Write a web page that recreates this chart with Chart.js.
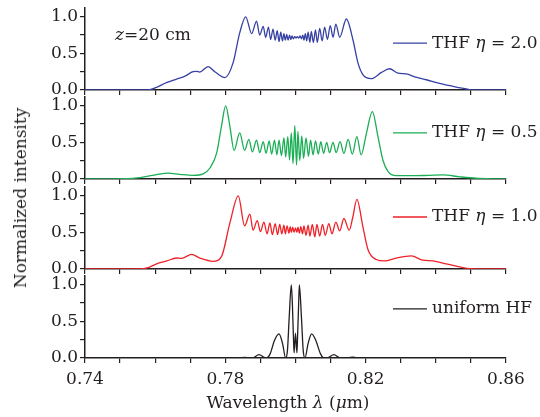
<!DOCTYPE html>
<html>
<head>
<meta charset="utf-8">
<script src="https://cdn.jsdelivr.net/npm/chart.js@4/dist/chart.umd.min.js"></script>
<style>
    body { margin: 0; background: #fff; }
    #wrap { position: relative; width: 540px; height: 417px; overflow: hidden; }
    canvas { position: absolute; left: 0; }
    .axTitle { position: absolute; font-family: "DejaVu Serif", serif; font-size: 17px; color: #231f20; white-space: nowrap; }
</style>
</head>
<body>
<div id="wrap">
    <canvas id="p1" width="540" height="100" style="top:0px"></canvas>
    <canvas id="p2" width="540" height="100" style="top:89px"></canvas>
    <canvas id="p3" width="540" height="100" style="top:179px"></canvas>
    <canvas id="p4" width="540" height="130" style="top:268px"></canvas>
    <div class="axTitle" id="yTitle" style="left:20px;top:198px;transform:translate(-50%,-50%) rotate(-90deg);">Normalized intensity</div>
    <div class="axTitle" id="xTitle" style="left:288px;top:402px;transform:translate(-50%,-50%);">Wavelength <i>λ</i> (<i>μ</i>m)</div>
</div>
<script>
// THF eta = 2.0
const etaTwoWl = [0.740, 0.758, 0.7604, 0.7632, 0.7661, 0.7685, 0.7708, 0.7718, 0.7727, 0.7751, 0.7770, 0.7799, 0.7822, 0.7841, 0.7858,
    0.7875, 0.7889, 0.7898, 0.7908, 0.7915, 0.7923, 0.7929, 0.7936, 0.7942, 0.7948, 0.7953, 0.7958, 0.7963, 0.7967, 0.7971, 0.7975,
    0.7979, 0.7983, 0.7987, 0.7990, 0.7994, 0.7998, 0.8002, 0.8005, 0.8009, 0.8013, 0.8017, 0.8021, 0.8024, 0.8028, 0.8032, 0.8036,
    0.8041, 0.8045, 0.8051, 0.8057, 0.8062, 0.8069, 0.8076, 0.8083, 0.8091, 0.8099, 0.8107, 0.8115, 0.8126, 0.8145,
    0.8164, 0.8178, 0.8192, 0.8216, 0.8245, 0.8268, 0.8292, 0.8316, 0.8340, 0.8373, 0.8411, 0.8458, 0.8496, 0.8500, 0.860];
const etaTwoVal = [0, 0, 0.037, 0.10, 0.15, 0.19, 0.25, 0.255, 0.245, 0.32, 0.25, 0.17, 0.37, 0.78, 1.0,
    0.77, 0.94, 0.75, 0.87, 0.72, 0.86, 0.69, 0.83, 0.68, 0.81, 0.66, 0.79, 0.67, 0.77, 0.68, 0.76,
    0.68, 0.75, 0.69, 0.74, 0.70, 0.73, 0.71, 0.73, 0.71, 0.74, 0.70, 0.75, 0.68, 0.77, 0.67, 0.79,
    0.65, 0.80, 0.65, 0.82, 0.65, 0.84, 0.67, 0.86, 0.69, 0.88, 0.72, 0.90, 0.72, 0.97,
    0.68, 0.37, 0.21, 0.155, 0.24, 0.29, 0.23, 0.22, 0.18, 0.14, 0.09, 0.04, 0.005, 0, 0];

// THF eta = 0.5
const etaHalfWl = [0.740, 0.7519, 0.7550, 0.7576, 0.7604, 0.7637, 0.7670, 0.7708, 0.7737, 0.7756, 0.7775, 0.7789, 0.7801, 0.7813,
    0.7825, 0.7841, 0.7855, 0.7867, 0.7877, 0.7889, 0.7898, 0.7908, 0.7916, 0.7925, 0.7932, 0.7940, 0.7947, 0.7953, 0.7960,
    0.7967, 0.7972, 0.7978, 0.7983, 0.7988, 0.7993, 0.7998, 0.8003, 0.8007, 0.8012, 0.8018, 0.8023, 0.8030, 0.8037, 0.8043,
    0.8050, 0.8057, 0.8065, 0.8072, 0.8080, 0.8089, 0.8097, 0.8107, 0.8116, 0.8127, 0.8138, 0.8150, 0.8162, 0.8175, 0.8187,
    0.8202, 0.8219, 0.8235, 0.8249, 0.8264, 0.8287, 0.8335, 0.8380, 0.8420, 0.8468, 0.8515, 0.856, 0.860];
const etaHalfVal = [0, 0.005, 0.015, 0.036, 0.06, 0.08, 0.064, 0.05, 0.07, 0.15, 0.35, 0.72, 1.0, 0.72,
    0.39, 0.63, 0.39, 0.54, 0.37, 0.53, 0.36, 0.51, 0.35, 0.52, 0.34, 0.53, 0.33, 0.53, 0.32,
    0.56, 0.30, 0.58, 0.26, 0.63, 0.21, 0.73, 0.19, 0.65, 0.25, 0.59, 0.28, 0.56, 0.31, 0.53,
    0.33, 0.52, 0.34, 0.51, 0.35, 0.50, 0.36, 0.50, 0.36, 0.51, 0.35, 0.54, 0.34, 0.58, 0.33,
    0.62, 0.92, 0.58, 0.26, 0.10, 0.045, 0.045, 0.05, 0.055, 0.03, 0.01, 0.002, 0];

// THF eta = 1.0
const etaOneWl = [0.740, 0.7557, 0.7580, 0.7604, 0.7633, 0.7661, 0.7675, 0.7704, 0.7727, 0.7765, 0.7789, 0.7813, 0.7837,
    0.7855, 0.7870, 0.7879, 0.7891, 0.7900, 0.7910, 0.7919, 0.7927, 0.7934, 0.7942, 0.7949, 0.7955, 0.7961, 0.7967, 0.7971,
    0.7976, 0.7981, 0.7985, 0.7988, 0.7992, 0.7996, 0.8000, 0.8004, 0.8007, 0.8011, 0.8015, 0.8020, 0.8024, 0.8030, 0.8036,
    0.8041, 0.8048, 0.8055, 0.8061, 0.8069, 0.8077, 0.8085, 0.8095, 0.8104, 0.8115, 0.8126, 0.8138, 0.8153, 0.8163, 0.8175,
    0.8192, 0.8207, 0.8230, 0.8254, 0.8287, 0.8330, 0.8363, 0.8392, 0.8430, 0.8477, 0.8515, 0.860];
const etaOneVal = [0, 0, 0.02, 0.07, 0.11, 0.15, 0.145, 0.20, 0.15, 0.105, 0.17, 0.63, 1.0,
    0.59, 0.75, 0.53, 0.66, 0.51, 0.64, 0.48, 0.63, 0.47, 0.62, 0.47, 0.61, 0.48, 0.60, 0.48,
    0.59, 0.49, 0.58, 0.50, 0.57, 0.50, 0.56, 0.50, 0.57, 0.49, 0.58, 0.48, 0.59, 0.46, 0.60,
    0.45, 0.61, 0.44, 0.61, 0.45, 0.61, 0.46, 0.62, 0.48, 0.64, 0.52, 0.69, 0.53, 0.70, 0.95,
    0.58, 0.26, 0.13, 0.11, 0.15, 0.18, 0.12, 0.11, 0.07, 0.02, 0, 0];

// uniform HF
const uniformWl = [0.740, 0.780, 0.7840, 0.7855, 0.7870, 0.7880, 0.7896, 0.7910, 0.7917, 0.7928, 0.7940, 0.7953, 0.7963, 0.7972,
    0.7977, 0.7982, 0.7988, 0.7991, 0.7994, 0.7996, 0.8000, 0.8004, 0.8006, 0.8009, 0.8011, 0.8017, 0.8022, 0.8027,
    0.8036, 0.8046, 0.8058, 0.8071, 0.8081, 0.8095, 0.8109, 0.8125, 0.8131, 0.8150, 0.8165, 0.8180, 0.860];
const uniformVal = [0, 0, 0.004, 0.008, 0, 0.005, 0.046, 0.01, 0, 0.06, 0.24, 0.33, 0.2, 0,
    0.1, 0.55, 1.0, 0.75, 0.3, 0.07, 0.34, 0.07, 0.3, 0.75, 1.0, 0.55, 0.1, 0,
    0.2, 0.33, 0.24, 0.06, 0, 0.01, 0.046, 0.005, 0, 0.004, 0.012, 0, 0];

const xTickLabels = ["0.74", "0.78", "0.82", "0.86"];
const yTickLabels = ["0.0", "0.5", "1.0"];

const ink = "#231f20";
const serif = "'DejaVu Serif', serif";

function toPoints(xs, ys) {
    return xs.map(function (x, i) { return { x: x, y: ys[i] }; });
}

function drawParts(ctx, parts, x, y) {
    parts.forEach(function (p) {
        ctx.font = (p[1] ? "italic " : "") + "17px " + serif;
        ctx.fillText(p[0], x, y);
        x += ctx.measureText(p[0]).width;
    });
}

// legend line + label, and the z note
const panelNotes = {
    id: "panelNotes",
    afterDraw(chart, args, opts) {
        const ctx = chart.ctx;
        const area = chart.chartArea;
        const yScale = chart.scales.y;
        ctx.save();
        ctx.fillStyle = ink;
        ctx.textBaseline = "middle";
        ctx.textAlign = "left";
        if (opts.legend) {
            const y = yScale.getPixelForValue(opts.legendAt);
            ctx.strokeStyle = opts.color;
            ctx.lineWidth = 1.3;
            ctx.beginPath();
            ctx.moveTo(area.right - 113, y);
            ctx.lineTo(area.right - 79, y);
            ctx.stroke();
            drawParts(ctx, opts.legend, area.right - 74, y);
        }
        if (opts.note) {
            drawParts(ctx, opts.note, area.left + 30, yScale.getPixelForValue(opts.noteAt));
        }
        ctx.restore();
    }
};

function makePanel(id, xs, ys, color, notes, bottom) {
    const ctx = document.getElementById(id).getContext("2d");
    new Chart(ctx, {
        type: "line",
        data: {
            datasets: [{
                data: toPoints(xs, ys),
                borderColor: color,
                borderWidth: 1.3,
                pointRadius: 0,
                cubicInterpolationMode: "monotone",
                fill: false
            }]
        },
        options: {
            responsive: false,
            animation: false,
            layout: { padding: { top: 8, right: 34, left: 0, bottom: 0 } },
            plugins: {
                legend: { display: false },
                tooltip: { enabled: false },
                panelNotes: notes
            },
            scales: {
                x: {
                    type: "linear",
                    min: 0.74,
                    max: 0.86,
                    border: { display: true, color: ink, width: 1.5 },
                    grid: { drawOnChartArea: false, drawTicks: true, tickLength: 5, color: ink, lineWidth: 1.2 },
                    ticks: {
                        display: bottom,
                        stepSize: 0.01,
                        autoSkip: false,
                        maxRotation: 0,
                        padding: 6,
                        color: ink,
                        font: { family: serif, size: 17 },
                        callback: function (v) {
                            const s = (Math.round(v * 100) / 100).toFixed(2);
                            return xTickLabels.indexOf(s) >= 0 ? s : "";
                        }
                    },
                    afterFit: function (scale) {
                        scale.height = bottom ? 40 : 10;
                        scale.paddingLeft = 0;
                        scale.paddingRight = 0;
                    }
                },
                y: {
                    min: 0,
                    max: 1.12,
                    border: { display: true, color: ink, width: 1.5 },
                    grid: { drawOnChartArea: false, drawTicks: true, tickLength: 5, color: ink, lineWidth: 1.2 },
                    ticks: {
                        stepSize: 0.25,
                        includeBounds: false,
                        autoSkip: false,
                        padding: 2,
                        color: ink,
                        font: { family: serif, size: 17 },
                        callback: function (v) {
                            const s = (Math.round(v * 100) / 100).toFixed(1);
                            return (Math.round(v * 100) % 50 === 0 && yTickLabels.indexOf(s) >= 0) ? s : "";
                        }
                    },
                    afterFit: function (scale) {
                        scale.width = 85;
                        scale.paddingTop = 0;
                        scale.paddingBottom = 0;
                    }
                }
            }
        },
        plugins: [panelNotes]
    });
}

document.addEventListener("DOMContentLoaded", function () {
    makePanel("p1", etaTwoWl, etaTwoVal, "#3641a3", {
        legend: [["THF ", false], ["η", true], [" = 2.0", false]], legendAt: 0.64, color: "#3641a3",
        note: [["z", true], ["=20 cm", false]], noteAt: 0.74
    }, false);
    makePanel("p2", etaHalfWl, etaHalfVal, "#1aae55", {
        legend: [["THF ", false], ["η", true], [" = 0.5", false]], legendAt: 0.63, color: "#1aae55"
    }, false);
    makePanel("p3", etaOneWl, etaOneVal, "#ee2228", {
        legend: [["THF ", false], ["η", true], [" = 1.0", false]], legendAt: 0.71, color: "#ee2228"
    }, false);
    makePanel("p4", uniformWl, uniformVal, ink, {
        legend: [["uniform HF", false]], legendAt: 0.67, color: ink
    }, true);
});
</script>
</body>
</html>
